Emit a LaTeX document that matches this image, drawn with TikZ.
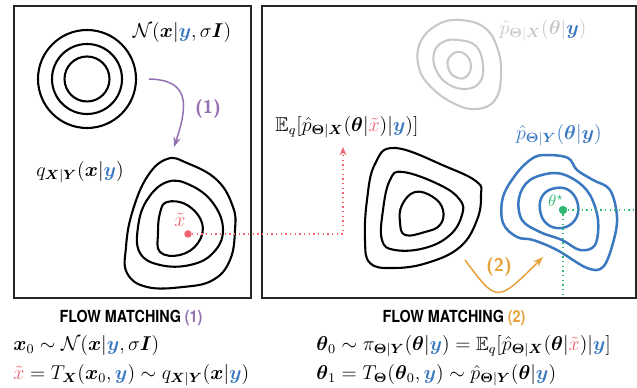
\documentclass[tikz,border=0pt]{standalone}
\usepackage{amsmath,amssymb}
\usepackage{fontspec}
\newfontfamily\flowfont[FakeStretch=0.86]{TeX Gyre Heros}
\usetikzlibrary{arrows.meta}
\definecolor{cblue}{HTML}{3A78C0}
\definecolor{cred}{HTML}{F06470}
\definecolor{cgreen}{HTML}{2EB872}
\definecolor{cpurple}{HTML}{9370B0}
\definecolor{corange}{HTML}{E6A23C}
\definecolor{cgray}{HTML}{C8C8C8}
\newcommand{\bx}{\boldsymbol{x}}
\newcommand{\by}{\textcolor{cblue}{\boldsymbol{y}}}
\newcommand{\bth}{\boldsymbol{\theta}}
\newcommand{\bTh}{\boldsymbol{\Theta}}
\newcommand{\bX}{\boldsymbol{X}}
\newcommand{\bY}{\boldsymbol{Y}}
\newcommand{\bI}{\boldsymbol{I}}
\newcommand{\xtl}{\textcolor{cred}{\tilde{x}}}
\tikzset{
  frame/.style={draw=black!85, line width=0.8pt},
  contour/.style={line width=1.25pt, line join=round},
  blackc/.style={contour, draw=black},
  bluec/.style={contour, draw=cblue, line width=1.5pt},
  grayc/.style={contour, draw=cgray},
  lbl/.style={inner sep=0pt, font=\large},
  eqn/.style={inner sep=0pt, anchor=west, font=\fontsize{11.5}{13}\selectfont},
  flow/.style={inner sep=0pt, font=\flowfont\bfseries\fontsize{10}{12}\selectfont},
  steplbl/.style={inner sep=0pt, font=\fontfamily{lmss}\bfseries\fontsize{11}{12}\selectfont},
  reddot/.style={draw=cred, dotted, line width=0.8pt},
  greendot/.style={draw=cgreen, dotted, line width=0.8pt},
}
\begin{document}
\begin{tikzpicture}[x=0.6pt, y=-0.6pt]
\useasboundingbox (0,0) rectangle (637,388);
% frames
\draw[frame] (14,6) rectangle (251,298);
\draw[frame] (262,6) rectangle (636,298);

% left box: Gaussian circles
\draw[blackc] (87,79) circle (49);
\draw[blackc] (87,79) circle (35);
\draw[blackc] (87,79) circle (22.5);
\node[lbl] (nlab) at (182,33) {$\mathcal{N}(\bx|\by,\sigma\bI)$};

% purple arrow
\coordinate (pa) at (149,79);
\coordinate (pb) at (174,147);
\draw[cpurple, line width=0.9pt, -{Stealth[length=6pt,width=4.5pt]}] (pa) .. controls (190,80) and (188,105) .. (pb);
\node[steplbl, text=cpurple] (one) at (208,109) {(1)};

% q contours
\draw[blackc] plot[smooth cycle, tension=0.7] coordinates {(167,159) (187,163) (217,180) (233,207) (235,230) (230,260) (213,280) (183,287) (147,287) (127,273) (126,247) (132,213) (147,177)};
\draw[blackc] plot[smooth cycle, tension=0.7] coordinates {(167,182) (190,185) (213,203) (223,230) (213,253) (190,265) (160,265) (140,253) (138,227) (147,200)};
\draw[blackc] plot[smooth cycle, tension=0.7] coordinates {(167,202) (187,205) (202,223) (198,243) (180,255) (160,252) (158,233) (160,213)};
\node[lbl] (qlab) at (80,172) {$q_{\bX|\bY}(\bx|\by)$};

% x tilde
\node[circle, fill=cred, inner sep=0pt, minimum size=4.5pt] (xdot) at (188,234) {};
\node[lbl, text=cred] (xlab) at (180,220) {$\tilde{x}$};
\coordinate (eqtip) at (343,147);
\draw[reddot, -{Stealth[length=5pt,width=4pt]}] (xdot) -| (eqtip);
\node[lbl] (eqlab) at (347,127) {$\mathbb{E}_q[\hat{p}_{\bTh|\bX}(\bth|\xtl)|\by)]$};

% gray contours
\draw[grayc] plot[smooth cycle, tension=0.7] coordinates {(460,20) (485,28) (498,50) (501,77) (495,100) (477,109) (455,104) (432,88) (419,68) (420,43) (437,25)};
\draw[grayc] plot[smooth cycle, tension=0.7] coordinates {(458,40) (476,46) (483,65) (480,82) (466,89) (448,84) (436,70) (434,53) (443,42)};
\draw[grayc] plot[smooth cycle, tension=0.7] coordinates {(457,52) (467,56) (471,67) (466,77) (458,78) (450,72) (448,60)};
\node[lbl, text=cgray] (graylab) at (543,30) {$\hat{p}_{\bTh|\bX}(\bth|\by)$};

% black contours right
\draw[blackc] plot[smooth cycle, tension=0.7] coordinates {(395,148) (447,167) (477,182) (481,195) (477,220) (460,247) (427,263) (393,268) (370,263) (365,240) (367,200) (375,164)};
\draw[blackc] plot[smooth cycle, tension=0.7] coordinates {(403,172) (440,185) (460,200) (462,215) (450,235) (425,248) (395,250) (382,240) (383,210) (390,180)};
\draw[blackc] plot[smooth cycle, tension=0.7] coordinates {(415,192) (433,197) (443,210) (440,225) (425,232) (405,235) (400,222) (402,205)};

% blue contours
\draw[bluec] plot[smooth cycle, tension=0.6] coordinates {(547,155) (568,158) (577,170) (593,180) (610,190) (617,217) (613,243) (603,267) (587,268) (557,250) (533,240) (517,237) (503,223) (503,197) (517,173) (533,158)};
\draw[bluec] plot[smooth cycle, tension=0.6] coordinates {(555,173) (575,180) (590,195) (598,220) (595,245) (580,250) (562,240) (540,232) (522,220) (519,198) (530,180)};
\draw[bluec] plot[smooth cycle, tension=0.7] coordinates {(556,188) (570,191) (578,205) (575,220) (562,228) (547,224) (540,210) (543,195)};
\node[lbl, text=cblue] (bluelab) at (559,135) {$\hat{p}_{\bTh|\bY}(\bth|\boldsymbol{y})$};

% theta star
\node[circle, fill=cgreen, inner sep=0pt, minimum size=5pt] (tdot) at (563,210) {};
\node[inner sep=0pt, text=cgreen] (tlab) at (556,201) {$\theta^{\star}$};
\coordinate (gr) at (636,210);
\coordinate (gb) at (563,298);
\draw[greendot] (tdot) -- (gr);
\draw[greendot] (tdot) -- (gb);

% orange arrow
\coordinate (oa) at (465,260);
\coordinate (ob) at (543,257);
\draw[corange, line width=0.9pt, -{Stealth[length=6pt,width=4.5pt]}] (oa) .. controls (497,303) .. (ob);
\node[steplbl, text=corange] (two) at (499,267) {(2)};

% bottom titles
\node[flow] (fm1) at (131,318) {FLOW MATCHING \textcolor{cpurple}{(1)}};
\node[flow] (fm2) at (454,318) {FLOW MATCHING \textcolor{corange}{(2)}};

% equations
\node[eqn] (e1) at (13,346) {$\bx_0 \sim \mathcal{N}(\bx|\by,\sigma\bI)$};
\node[eqn] (e2) at (13,375) {$\xtl = T_{\bX}(\bx_0,\by) \sim q_{\bX|\bY}(\bx|\by)$};
\node[eqn] (e3) at (316,346) {$\bth_0 \sim \pi_{\bTh|\bY}(\bth|\by) = \mathbb{E}_q[\hat{p}_{\bTh|\bX}(\bth|\xtl)|\by]$};
\node[eqn] (e4) at (316,375) {$\bth_1 = T_{\bTh}(\bth_0,\by) \sim \hat{p}_{\bTh|\bY}(\bth|\by)$};
\end{tikzpicture}
\end{document}
